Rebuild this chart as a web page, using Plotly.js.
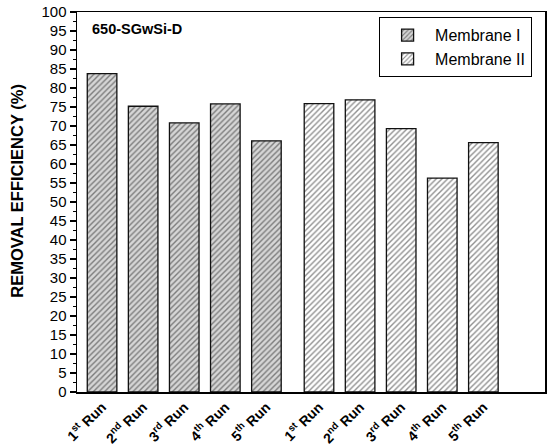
<!DOCTYPE html>
<html>
<head>
<meta charset="utf-8">
<script src="https://cdn.plot.ly/plotly-3.0.1.min.js"></script>
<style>html,body{margin:0;padding:0;background:#fff;}#chart{width:550px;height:447px;}</style>
</head>
<body>
<div id="chart"></div>
<script>
var runLabels = ['1<sup>st</sup> Run', '2<sup>nd</sup> Run', '3<sup>rd</sup> Run', '4<sup>th</sup> Run', '5<sup>th</sup> Run'];
var membrane1 = [83.8, 75.2, 70.8, 75.8, 66.1];
var membrane2 = [75.9, 76.9, 69.3, 56.3, 65.6];
var membrane1Pos = [1, 2, 3, 4, 5];
var membrane2Pos = [6.28, 7.28, 8.28, 9.28, 10.28];
var yTicks = [0,5,10,15,20,25,30,35,40,45,50,55,60,65,70,75,80,85,90,95,100];

var traces = [
  {
    type: 'bar', name: 'Membrane I', x: membrane1Pos, y: membrane1, width: 0.72,
    marker: {color: '#d6d6d6', line: {color: '#111', width: 1.3},
      pattern: {shape: '/', bgcolor: '#d6d6d6', fgcolor: '#222', size: 4, solidity: 0.35, fillmode: 'overlay'}}
  },
  {
    type: 'bar', name: 'Membrane II', x: membrane2Pos, y: membrane2, width: 0.72,
    marker: {color: '#ffffff', line: {color: '#111', width: 1.3},
      pattern: {shape: '/', bgcolor: '#ffffff', fgcolor: '#222', size: 4, solidity: 0.35, fillmode: 'overlay'}}
  }
];

var layout = {
  width: 550, height: 447,
  margin: {l: 77, r: 5, t: 12, b: 55},
  paper_bgcolor: '#fff', plot_bgcolor: '#fff',
  font: {family: 'Liberation Sans, Arial, sans-serif', color: '#000'},
  showlegend: true,
  bargap: 0,
  xaxis: {
    range: [0.39, 11.78],
    tickvals: membrane1Pos.concat(membrane2Pos),
    ticktext: runLabels.concat(runLabels),
    tickangle: -45,
    tickfont: {size: 14, family: 'Liberation Sans, Arial, sans-serif', weight: 'bold'},
    ticks: '', showgrid: false, zeroline: false,
    showline: true, mirror: true, linecolor: '#000', linewidth: 1.5
  },
  yaxis: {
    range: [0, 100],
    tickvals: yTicks,
    ticktext: yTicks.map(String),
    ticks: 'outside', ticklen: 6, tickwidth: 1.2, tickcolor: '#000',
    minor: {dtick: 2.5, tick0: 0, ticks: 'outside', ticklen: 3, tickcolor: '#000', tickwidth: 1, showgrid: false},
    tickfont: {size: 15},
    showgrid: false, zeroline: false,
    showline: true, mirror: true, linecolor: '#000', linewidth: 1.5
  },
  legend: {
    x: 0.972, y: 0.987, xanchor: 'right', yanchor: 'top',
    bgcolor: '#fff', bordercolor: '#000', borderwidth: 1.2,
    font: {size: 16},
    itemwidth: 45,
    tracegroupgap: 0
  },
  annotations: [
    {text: '650-SGwSi-D', xref: 'paper', yref: 'paper', x: 0.028, y: 0.955, xanchor: 'left', yanchor: 'middle',
     showarrow: false, font: {size: 14.5, weight: 'bold'}},
    {text: 'REMOVAL EFFICIENCY (%)', xref: 'paper', yref: 'paper', x: -0.128, y: 0.53, xanchor: 'center', yanchor: 'middle',
     textangle: -90, showarrow: false, font: {size: 16.5, weight: 'bold'}}
  ]
};

Plotly.newPlot('chart', traces, layout, {displayModeBar: false, staticPlot: true});
</script>
</body>
</html>
